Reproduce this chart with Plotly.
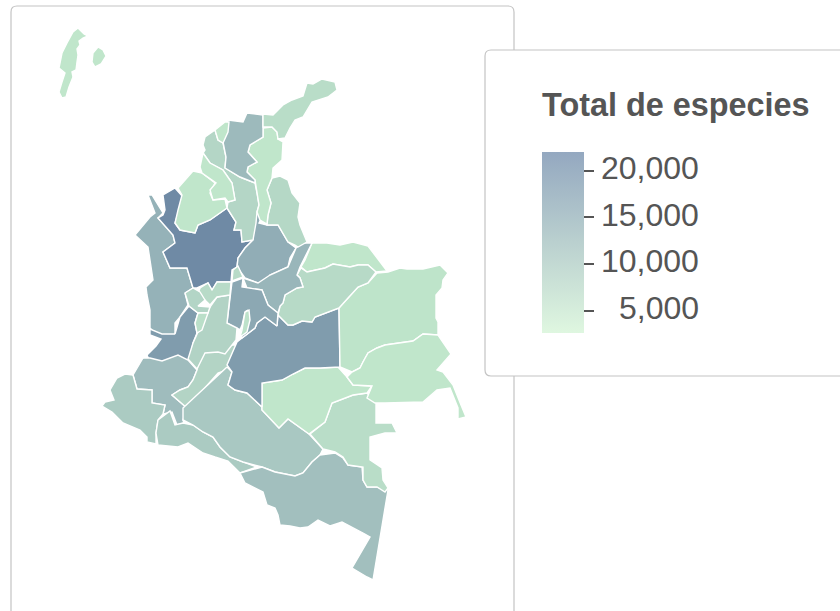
import plotly.graph_objects as go
from plotly.colors import sample_colorscale

# Total species per department
departments = ['Chocó', 'Antioquia', 'Valle del Cauca', 'Cauca', 'Nariño', 'Putumayo', 'Huila', 'Caquetá',
               'Amazonas', 'Vaupés', 'Guaviare', 'Meta', 'Vichada', 'Guainía', 'Arauca', 'Casanare',
               'Santander', 'Boyacá', 'Cundinamarca', 'Bogotá', 'Tolima', 'Caldas', 'Risaralda', 'Quindío',
               'Norte de Santander', 'Bolívar', 'Cesar', 'Córdoba', 'Sucre', 'Magdalena', 'Atlántico',
               'La Guajira', 'San Andrés']
especies = [14700, 21400, 18400, 13000, 10600, 10600, 9100, 11000,
            12500, 7800, 6300, 18400, 6700, 6300, 6300, 8200,
            15500, 14000, 16400, 7000, 9300, 8000, 9000, 7500,
            8600, 8800, 6300, 6300, 6300, 13400, 6300,
            7800, 6300]

outlines = {
    'Chocó': [[(135,235),(150,217),(155,213),(148,195),(152,195),(163,213),(158,218),(173,235),(175,243),(163,252),(170,268),(187,268),(193,288),(185,293),(188,305),(180,317),(175,323),(175,336),(163,336),(152,330),(150,328),(150,310),(147,295),(146,287),(153,280),(150,258),(148,247)]],
    'Antioquia': [[(227,208),(236,222),(234,230),(241,230),(242,242),(253,240),(245,248),(238,258),(237,267),(232,270),(231,282),(217,282),(212,290),(208,283),(197,288),(193,288),(187,268),(170,268),(163,252),(175,243),(173,235),(158,218),(163,215),(165,210),(163,195),(175,188),(183,197),(175,223),(180,230),(195,233),(198,225),(210,220)]],
    'Valle del Cauca': [[(175,334),(180,317),(189,306),(198,313),(195,323),(197,333),(193,343),(190,362),(175,363),(160,364),(150,362),(147,355),(156,346),(161,339),(150,335),(150,329),(162,334)]],
    'Cauca': [[(143,358),(150,358),(162,361),(170,358),(178,355),(188,360),(197,370),(193,380),(188,387),(180,390),(172,395),(187,408),(183,420),(184,423),(177,425),(172,412),(163,414),(165,405),(152,403),(152,390),(137,389),(133,375)]],
    'Nariño': [[(133,375),(125,374),(117,378),(110,390),(114,400),(105,402),(102,406),(112,412),(123,423),(135,428),(140,430),(147,437),(147,442),(156,444),(156,433),(158,420),(163,414),(165,405),(152,403),(152,390),(137,389)]],
    'Putumayo': [[(158,420),(170,411),(175,425),(183,423),(193,425),(203,432),(213,437),(220,447),(230,457),(243,462),(257,467),(240,473),(228,461),(215,457),(203,453),(188,443),(178,447),(158,445),(156,433)]],
    'Huila': [[(200,350),(218,346),(232,345),(240,345),(232,368),(218,373),(187,408),(172,395),(180,390),(188,387),(193,380),(197,370)]],
    'Caquetá': [[(227,367),(232,372),(228,385),(235,390),(247,393),(262,407),(262,410),(279,428),(288,419),(309,434),(323,449),(320,455),(312,462),(303,473),(295,476),(275,472),(262,467),(243,462),(230,457),(220,447),(213,437),(203,432),(193,425),(183,420),(183,408)]],
    'Amazonas': [[(240,473),(262,467),(275,472),(295,476),(303,473),(312,462),(320,455),(335,453),(343,458),(348,465),(362,467),(363,480),(367,487),(377,487),(388,490),(373,580),(367,577),(352,568),(370,537),(363,533),(342,522),(330,526),(318,520),(308,527),(300,528),(290,526),(280,525),(278,515),(275,508),(267,505),(263,492),(253,487),(245,483)]],
    'Vaupés': [[(332,403),(353,395),(367,393),(376,403),(376,423),(392,423),(397,433),(385,433),(370,437),(370,460),(382,468),(383,480),(388,488),(385,492),(377,487),(367,487),(363,480),(363,467),(348,465),(343,457),(335,452),(323,449),(310,434),(325,422)]],
    'Guaviare': [[(262,383),(282,380),(293,374),(305,368),(320,368),(338,367),(347,377),(353,385),(372,386),(367,393),(353,395),(332,403),(325,422),(309,434),(288,419),(279,428),(262,410)]],
    'Meta': [[(339,308),(340,367),(320,368),(305,368),(293,374),(282,380),(262,383),(262,407),(247,393),(235,390),(228,385),(232,372),(227,365),(237,342),(242,338),(255,328),(257,323),(265,317),(277,326),(278,315),(288,325),(293,325),(302,321),(312,322),(315,317)]],
    'Vichada': [[(377,273),(388,272),(400,268),(407,269),(423,269),(440,265),(448,273),(443,280),(442,288),(436,295),(436,318),(438,322),(438,335),(423,334),(413,341),(385,345),(377,348),(368,353),(363,362),(360,368),(352,372),(340,367),(339,308),(348,298),(358,287),(368,283)]],
    'Guainía': [[(438,335),(451,354),(437,370),(443,372),(453,385),(457,396),(461,405),(466,417),(458,419),(458,408),(454,398),(450,388),(437,390),(423,402),(385,403),(375,403),(367,398),(372,386),(353,385),(347,377),(352,372),(360,368),(363,362),(368,353),(377,348),(385,345),(413,341),(423,334)]],
    'Arauca': [[(312,243),(327,243),(340,245),(353,242),(368,246),(387,271),(376,272),(368,265),(358,265),(350,267),(333,264),(325,268),(307,272),(301,267),(305,260)]],
    'Casanare': [[(301,268),(307,272),(325,268),(333,264),(350,267),(358,265),(368,265),(376,272),(368,283),(358,287),(348,298),(339,308),(315,317),(312,322),(302,321),(293,325),(288,325),(280,317),(278,315),(280,306),(283,303),(285,295),(297,288),(303,287),(300,278),(297,275)]],
    'Santander': [[(253,240),(254,222),(256,211),(261,219),(259,223),(267,225),(278,225),(288,242),(296,248),(290,258),(288,267),(270,275),(268,282),(258,283),(245,278),(237,267),(238,258),(245,248)]],
    'Boyacá': [[(296,248),(303,243),(312,243),(302,263),(300,267),(297,275),(300,278),(303,287),(297,288),(285,295),(283,303),(280,306),(278,313),(268,305),(262,290),(247,288),(243,278),(258,283),(270,275),(288,267)]],
    'Cundinamarca': [[(232,282),(243,278),(242,287),(262,290),(268,305),(278,313),(277,326),(265,317),(257,323),(255,328),(242,338),(240,330),(248,310),(245,312),(241,330),(236,328),(227,323)]],
    'Bogotá': [[(245,312),(249,310),(250,320),(247,332),(240,337),(242,330)]],
    'Tolima': [[(230,295),(227,323),(237,328),(236,340),(225,354),(218,352),(205,353),(203,357),(197,369),(188,359),(193,343),(198,332),(210,307),(217,297)]],
    'Caldas': [[(200,288),(208,283),(212,290),(217,282),(231,282),(230,295),(217,297),(210,305),(205,300),(197,297)],
               [(233,270),(238,266),(243,277),(232,281)]],
    'Risaralda': [[(185,293),(193,288),(200,292),(205,300),(198,306),(210,307),(208,313),(198,313),(189,306)]],
    'Quindío': [[(198,313),(208,313),(202,330),(197,333),(195,323)]],
    'Norte de Santander': [[(272,178),(280,176),(288,180),(292,193),(300,203),(298,217),(300,225),(307,242),(298,247),(295,245),(288,242),(278,225),(267,225),(268,215),(271,203),(267,190)]],
    'Bolívar': [[(205,137),(215,130),(218,140),(223,143),(226,157),(225,168),(240,177),(255,183),(257,193),(259,205),(257,212),(256,223),(253,240),(242,242),(241,230),(234,230),(236,222),(227,208),(228,202),(235,200),(232,183),(223,170),(210,163),(203,153),(205,150),(203,145)]],
    'Cesar': [[(263,128),(272,127),(277,132),(278,139),(283,142),(282,160),(273,168),(272,178),(267,190),(271,203),(268,215),(267,224),(260,220),(257,212),(259,205),(257,193),(255,183),(255,180),(247,172),(248,167),(257,162),(248,152),(250,145),(263,137)]],
    'Córdoba': [[(193,171),(202,173),(215,183),(210,193),(213,200),(225,199),(227,208),(210,220),(198,225),(195,233),(180,230),(175,223),(178,210),(182,195),(178,188)]],
    'Sucre': [[(203,153),(210,163),(223,170),(232,183),(235,200),(228,202),(225,198),(213,200),(210,190),(216,183),(202,173),(200,167)]],
    'Magdalena': [[(228,120),(243,122),(247,113),(263,115),(263,137),(250,145),(248,152),(257,162),(248,167),(247,172),(255,180),(255,183),(240,177),(225,168),(226,157),(223,142)]],
    'Atlántico': [[(215,130),(225,122),(229,122),(228,132),(223,143),(218,140)]],
    'La Guajira': [[(263,114),(273,115),(283,105),(292,100),(303,96),(307,83),(313,84),(322,79),(335,82),(337,90),(328,97),(312,102),(303,117),(295,120),(290,128),(285,138),(278,139),(277,132),(272,127),(263,127)]],
    'San Andrés': [[(78,28),(84,34),(88,36),(83,38),(79,41),(80,45),(77,49),(78,55),(77,62),(76,70),(72,72),(73,77),(69,87),(66,97),(62,98),(59,92),(62,82),(65,73),(59,68),(62,53),(67,43),(73,32)],
                   [(98,47),(103,50),(106,56),(101,64),(95,67),(92,62),(93,53)]],
}

legend_ticks = [5000, 10000, 15000, 20000]
zmin = 2640
zmax = 22000

map_colors = [[0, '#d4f4d5'], [0.19, '#c0e6cb'], [0.5, '#a3c0bf'], [1, '#6c86a3']]
legend_colors = [[0, '#dff7e0'], [0.5, '#bad0cf'], [1, '#94a8c0']]

W = 840
H = 611
bar_top = 152
bar_len = 181


def to_lonlat(point):
    return -79 + (point[0] - 100) / 30, 12.46 - (point[1] - 80) / 30


def rounded_box(x0, y0, x1, y1, r):
    X = lambda v: v / W
    Y = lambda v: 1 - v / H
    return (f'M{X(x0 + r)},{Y(y0)} L{X(x1 - r)},{Y(y0)} Q{X(x1)},{Y(y0)} {X(x1)},{Y(y0 + r)} '
            f'L{X(x1)},{Y(y1 - r)} Q{X(x1)},{Y(y1)} {X(x1 - r)},{Y(y1)} L{X(x0 + r)},{Y(y1)} '
            f'Q{X(x0)},{Y(y1)} {X(x0)},{Y(y1 - r)} L{X(x0)},{Y(y0 + r)} Q{X(x0)},{Y(y0)} {X(x0 + r)},{Y(y0)} Z')


fig = go.Figure()

# Geo subplots want topojson from the CDN even when hidden, so the map sits on plain lon/lat axes
for name, value in zip(departments, especies):
    lon = []
    lat = []
    for ring in outlines[name]:
        for p in ring + ring[:1]:
            a, b = to_lonlat(p)
            lon.append(a)
            lat.append(b)
        lon.append(None)
        lat.append(None)
    color = sample_colorscale(map_colors, (value - zmin) / (zmax - zmin))[0]
    fig.add_trace(go.Scatter(x=lon, y=lat, mode='lines', fill='toself', fillcolor=color, name=name,
                             line=dict(color='white', width=1.4), hoveron='fills', text=f'{name}: {value:,}',
                             hoverinfo='text', showlegend=False))

# The legend ramp is paler than the map, this empty trace only carries the colour bar
fig.add_trace(go.Scatter(x=[None], y=[None], mode='markers', showlegend=False, hoverinfo='skip',
                         marker=dict(color=[zmin], cmin=zmin, cmax=zmax, colorscale=legend_colors, showscale=True,
                                     colorbar=dict(x=542 / W, xanchor='left', xpad=0, y=1 - bar_top / H, yanchor='top', ypad=0,
                                                   lenmode='pixels', len=bar_len, thicknessmode='pixels', thickness=42,
                                                   outlinewidth=0, borderwidth=0, showticklabels=False,
                                                   tickmode='array', tickvals=legend_ticks,
                                                   ticks='outside', ticklen=10, tickwidth=1.5, tickcolor='#555555'))))

fig.update_xaxes(visible=False, range=[to_lonlat((0, 0))[0], to_lonlat((W, 0))[0]], domain=[0, 1], fixedrange=True)
fig.update_yaxes(visible=False, range=[to_lonlat((0, H))[1], to_lonlat((0, 0))[1]], domain=[0, 1], fixedrange=True)

# Labels end flush right and sit a little above their ticks, which colour bar labels cannot do
labels = [dict(text='<b>Total de especies</b>', xref='paper', yref='paper',
               x=540 / W, xanchor='left', y=1 - 105 / H, yanchor='middle', showarrow=False,
               font=dict(family='Liberation Sans', size=32.4, color='#555555'))]
for v in legend_ticks:
    tick_y = bar_top + bar_len * (zmax - v) / (zmax - zmin)
    labels.append(dict(text=f'{v:,}', xref='paper', yref='paper', x=701 / W, xanchor='right',
                       y=1 - (tick_y - 2.7) / H, yanchor='middle', showarrow=False,
                       font=dict(family='Liberation Sans', size=32, color='#555555')))

fig.update_layout(width=W, height=H, margin=dict(l=0, r=0, t=0, b=0), paper_bgcolor='white', plot_bgcolor='rgba(0,0,0,0)',
                  font=dict(family='Liberation Sans', color='#555555'),
                  shapes=[dict(type='path', xref='paper', yref='paper', path=rounded_box(11, 6, 514, 640, 6),
                               line=dict(color='#c4c4c4', width=1.2), fillcolor='white', layer='below'),
                          dict(type='path', xref='paper', yref='paper', path=rounded_box(485, 50, 860, 376, 6),
                               line=dict(color='#c4c4c4', width=1.2), fillcolor='white', layer='above')],
                  annotations=labels)

# drop the page's default body margin so the figure starts at the window corner
fig.write_html("out.html", config=dict(displayModeBar=False), post_script="document.body.style.margin = '0';")
